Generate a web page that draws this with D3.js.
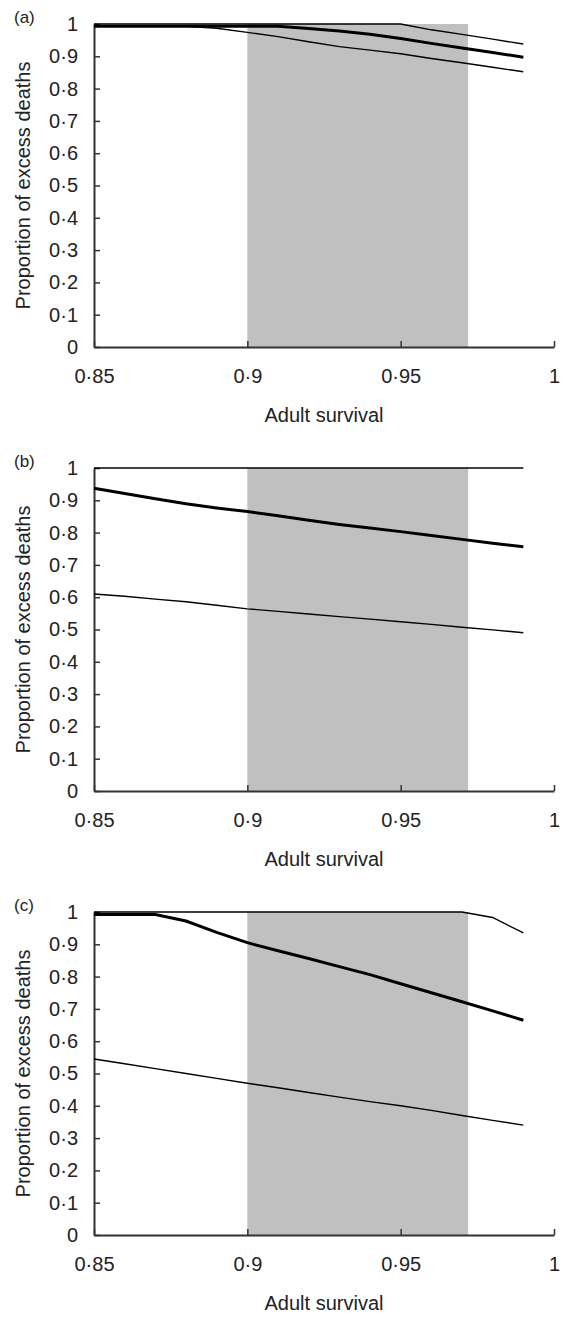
<!DOCTYPE html>
<html>
<head>
<meta charset="utf-8">
<script src="https://cdn.jsdelivr.net/npm/d3@7"></script>
<style>
  body { margin: 0; background: #fff; }
  text { font-family: "Liberation Sans", Arial, sans-serif; fill: #222; }
</style>
</head>
<body>
<div id="main"></div>
<script>

// adult survival values the curves were sampled at
var survival = [0.85, 0.86, 0.87, 0.88, 0.89, 0.90, 0.91, 0.92, 0.93, 0.94, 0.95, 0.96, 0.97, 0.98, 0.99];

// shaded band of plausible adult survival
var shadeFrom = 0.9;
var shadeTo = 0.972;

var panelNames = ["(a)", "(b)", "(c)"];
var xTicks = [0.85, 0.9, 0.95, 1];
var yTicks = [0, 0.1, 0.2, 0.3, 0.4, 0.5, 0.6, 0.7, 0.8, 0.9, 1];

// panel (a)
var aUpper = [1, 1, 1, 1, 1, 1, 1, 1, 1, 1, 1, 0.982, 0.968, 0.953, 0.938];
var aMid   = [0.993, 0.993, 0.993, 0.993, 0.993, 0.993, 0.993, 0.986, 0.978, 0.968, 0.955, 0.940, 0.926, 0.912, 0.897];
var aLower = [0.993, 0.993, 0.993, 0.993, 0.987, 0.974, 0.961, 0.945, 0.930, 0.919, 0.908, 0.893, 0.880, 0.866, 0.852];

// panel (b)
var bUpper = [1, 1, 1, 1, 1, 1, 1, 1, 1, 1, 1, 1, 1, 1, 1];
var bMid   = [0.937, 0.921, 0.905, 0.889, 0.876, 0.865, 0.852, 0.838, 0.825, 0.814, 0.803, 0.791, 0.779, 0.767, 0.756];
var bLower = [0.610, 0.603, 0.594, 0.586, 0.575, 0.564, 0.556, 0.548, 0.540, 0.532, 0.524, 0.516, 0.507, 0.499, 0.490];

// panel (c)
var cUpper = [1, 1, 1, 1, 1, 1, 1, 1, 1, 1, 1, 1, 1, 0.983, 0.935];
var cMid   = [0.992, 0.992, 0.992, 0.972, 0.937, 0.905, 0.880, 0.856, 0.831, 0.806, 0.778, 0.750, 0.722, 0.694, 0.665];
var cLower = [0.545, 0.530, 0.515, 0.500, 0.485, 0.470, 0.456, 0.441, 0.427, 0.413, 0.400, 0.386, 0.370, 0.355, 0.340];

var panels = [
  { name: panelNames[0], upper: aUpper, mid: aMid, lower: aLower },
  { name: panelNames[1], upper: bUpper, mid: bMid, lower: bLower },
  { name: panelNames[2], upper: cUpper, mid: cMid, lower: cLower }
];

var w = 571;
var h = 1317;
var left = 94, right = 554;
var top0 = 24, plotH = 323, step = 444;

var dot = function(v) { return String(+v.toFixed(2)).replace(".", "\u00b7"); };

var svg = d3.select("#main").append("svg")
    .attr("width", w)
    .attr("height", h);

var x = d3.scaleLinear().domain([0.85, 1]).range([left, right]);

panels.forEach(function(p, i) {
  var top = top0 + i * step;
  var y = d3.scaleLinear().domain([0, 1]).range([top + plotH, top]);
  var g = svg.append("g");

  // shaded band
  g.append("rect")
      .attr("x", x(shadeFrom))
      .attr("y", y(1))
      .attr("width", x(shadeTo) - x(shadeFrom))
      .attr("height", y(0) - y(1))
      .attr("fill", "#c0c0c0");

  // axes, ticks pointing inwards
  var yAxis = d3.axisLeft(y).tickValues(yTicks).tickFormat(dot)
      .tickSizeInner(-6).tickSizeOuter(0).tickPadding(16);
  var xAxis = d3.axisBottom(x).tickValues(xTicks).tickFormat(dot)
      .tickSizeInner(-6).tickSizeOuter(0).tickPadding(22);

  var ya = g.append("g").attr("transform", "translate(" + left + ",0)").call(yAxis);
  var xa = g.append("g").attr("transform", "translate(0," + y(0) + ")").call(xAxis);
  [ya, xa].forEach(function(a) {
    a.select(".domain").attr("stroke", "#333").attr("stroke-width", 2);
    a.selectAll(".tick line").attr("stroke", "#333").attr("stroke-width", 1.5);
    a.selectAll(".tick text").attr("font-size", 20).attr("fill", "#222")
        .attr("font-family", "Liberation Sans, Arial, sans-serif");
  });

  var line = d3.line()
      .x(function(d, j) { return x(survival[j]); })
      .y(function(d) { return y(d); });

  g.append("path").datum(p.upper).attr("d", line)
      .attr("fill", "none").attr("stroke", "#000").attr("stroke-width", 1.4);
  g.append("path").datum(p.lower).attr("d", line)
      .attr("fill", "none").attr("stroke", "#000").attr("stroke-width", 1.4);
  g.append("path").datum(p.mid).attr("d", line)
      .attr("fill", "none").attr("stroke", "#000").attr("stroke-width", 3);

  // labels
  g.append("text")
      .attr("x", 14).attr("y", top - 1)
      .attr("font-size", 17)
      .text(p.name);

  g.append("text")
      .attr("x", (left + right) / 2).attr("y", y(0) + 75)
      .attr("text-anchor", "middle")
      .attr("font-size", 20)
      .text("Adult survival");

  g.append("text")
      .attr("transform", "translate(30," + (top + plotH / 2) + ") rotate(-90)")
      .attr("text-anchor", "middle")
      .attr("font-size", 20)
      .text("Proportion of excess deaths");
});

</script>
</body>
</html>
